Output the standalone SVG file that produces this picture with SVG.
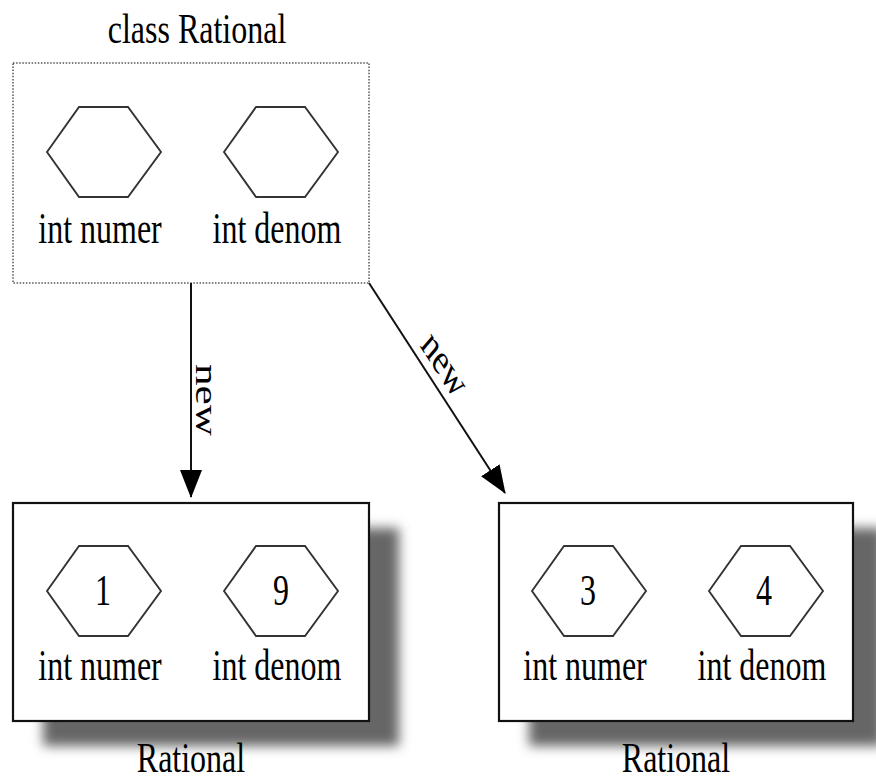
<svg xmlns="http://www.w3.org/2000/svg" xmlns:xlink="http://www.w3.org/1999/xlink" width="876" height="782" viewBox="0 0 876 782">
  <style>
    .lbl { font-family: "Liberation Serif", "Times New Roman", serif; font-size: 32px; fill: #000; text-anchor: middle; }
    .hex { fill: none; stroke: #333; stroke-width: 1.9; }
    .obj { fill: #fff; stroke: #111; stroke-width: 2.2; }
    .shadow { fill: #666; filter: url(#blur); }
    .cls { fill: none; stroke: #555; stroke-width: 1.5; stroke-dasharray: 1.5 1.6; }
    .edge { stroke: #111; stroke-width: 2; fill: none; }
  </style>
  <defs>
    <filter id="blur" x="-20%" y="-20%" width="140%" height="140%">
      <feGaussianBlur stdDeviation="6"/>
    </filter>
    <polygon id="hexShape" points="-57,0 -25,-45 24,-45 57,0 24,45 -25,45"/>
    <marker id="arrow" viewBox="0 0 28 22" refX="27" refY="11" markerWidth="28" markerHeight="22" markerUnits="userSpaceOnUse" orient="auto">
      <path d="M0,0 L28,11 L0,22 Z" fill="#000"/>
    </marker>
  </defs>

  <!-- class template -->
  <g id="class-rational">
    <text class="lbl" transform="translate(197,43) scale(1,1.35)">class Rational</text>
    <rect class="cls" x="13" y="63" width="356" height="220"/>
    <use xlink:href="#hexShape" class="hex" transform="translate(104,152)"/>
    <use xlink:href="#hexShape" class="hex" transform="translate(281,152)"/>
    <text class="lbl" transform="translate(100,243) scale(1,1.4)">int numer</text>
    <text class="lbl" transform="translate(277,243) scale(1,1.4)">int denom</text>
  </g>

  <!-- instance 1/9 -->
  <g id="rational-1-9">
    <rect class="shadow" x="43" y="528" width="356" height="218"/>
    <rect class="obj" x="13" y="503" width="356" height="218"/>
    <use xlink:href="#hexShape" class="hex" transform="translate(104,591)"/>
    <use xlink:href="#hexShape" class="hex" transform="translate(281,591)"/>
    <text class="lbl" transform="translate(103,605) scale(1,1.4)">1</text>
    <text class="lbl" transform="translate(281,605) scale(1,1.4)">9</text>
    <text class="lbl" transform="translate(100,680) scale(1,1.4)">int numer</text>
    <text class="lbl" transform="translate(277,680) scale(1,1.4)">int denom</text>
    <text class="lbl" transform="translate(191,772) scale(1,1.3)">Rational</text>
  </g>

  <!-- instance 3/4 -->
  <g id="rational-3-4">
    <rect class="shadow" x="529" y="528" width="354" height="218"/>
    <rect class="obj" x="499" y="503" width="354" height="218"/>
    <use xlink:href="#hexShape" class="hex" transform="translate(589,591)"/>
    <use xlink:href="#hexShape" class="hex" transform="translate(766,591)"/>
    <text class="lbl" transform="translate(588,605) scale(1,1.4)">3</text>
    <text class="lbl" transform="translate(764,605) scale(1,1.4)">4</text>
    <text class="lbl" transform="translate(585,680) scale(1,1.4)">int numer</text>
    <text class="lbl" transform="translate(762,680) scale(1,1.4)">int denom</text>
    <text class="lbl" transform="translate(676,772) scale(1,1.3)">Rational</text>
  </g>

  <!-- instantiation arrows -->
  <g id="connectors">
    <line class="edge" x1="191" y1="283" x2="191" y2="497" marker-end="url(#arrow)"/>
    <text class="lbl" transform="translate(196,400) scale(1,1.35) rotate(90)">new</text>
    <line class="edge" x1="369" y1="283" x2="505" y2="493" marker-end="url(#arrow)"/>
    <text class="lbl" transform="translate(437,373) scale(1,1.35) rotate(48.8)">new</text>
  </g>
</svg>
